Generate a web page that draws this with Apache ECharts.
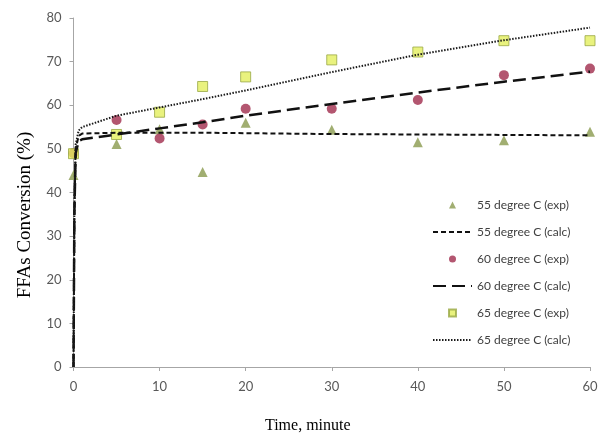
<!DOCTYPE html>
<html><head><meta charset="utf-8">
<script src="https://cdn.jsdelivr.net/npm/echarts@6/dist/echarts.min.js"></script>
<style>html,body{margin:0;padding:0;background:#fff}#c{width:605px;height:439px}</style>
</head><body><div id="c"></div>
<script>
// experimental data (time, conversion %)
const time = [0, 5, 10, 15, 20, 30, 40, 50, 60];
const exp55 = [44.0, 51.1, 54.5, 44.7, 56.0, 54.4, 51.5, 52.0, 53.9];
const exp60 = [49.0, 56.6, 52.4, 55.6, 59.2, 59.2, 61.2, 66.9, 68.4];
const exp65 = [48.9, 53.3, 58.4, 64.3, 66.5, 70.4, 72.2, 74.8, 74.8];
// calculated curves
const calcTime = [0, 0.1, 0.25, 0.6, 1, 5, 10, 15, 20, 30, 40, 50, 60];
const calc55 = [0, 35, 50, 53.0, 53.5, 53.7, 53.7, 53.7, 53.6, 53.4, 53.3, 53.2, 53.1];
const calc60 = [0, 35, 49, 51.8, 52.2, 53.3, 54.7, 56.1, 57.6, 60.3, 62.9, 65.4, 67.7];
const calc65 = [0, 36, 51, 54.2, 55.0, 57.6, 59.5, 61.4, 63.4, 67.6, 71.6, 74.9, 77.8];
const names = ['55 degree C (exp)', '55 degree C (calc)', '60 degree C (exp)', '60 degree C (calc)', '65 degree C (exp)', '65 degree C (calc)'];
const xTitle = 'Time, minute';
const yTitle = 'FFAs Conversion (%)';

const pair = (xs, ys) => xs.map((x, i) => [x, ys[i]]);
const chart = echarts.init(document.getElementById('c'));
const axisGray = '#a6a6a6';
const lbl = {color: '#595959', fontFamily: 'Lato', fontSize: 13};
const legendText = {fontFamily: 'Lato', fontSize: 12, color: '#404040'};
chart.setOption({
  animation: false,
  grid: {left: 73.5, right: 15, top: 18, bottom: 68},
  legend: [{
    orient: 'vertical', left: 448, top: 199, padding: 0,
    itemWidth: 7, itemHeight: 7, itemGap: 42,
    textStyle: Object.assign({padding: [0, 0, 0, 16]}, legendText),
    data: [names[0], names[2], names[4]]
  }, {
    orient: 'vertical', left: 432, top: 226, padding: 0,
    itemWidth: 39, itemHeight: 7, itemGap: 42,
    textStyle: legendText,
    data: [names[1], names[3], names[5]].map(n => ({name: n, itemStyle: {opacity: 0}}))
  }],
  graphic: [{
    type: 'text', x: 25, y: 215, rotation: Math.PI / 2,
    style: {text: yTitle, font: '19px "Liberation Serif"', fill: '#000', align: 'center', verticalAlign: 'middle'}
  }],
  xAxis: {
    type: 'value', min: 0, max: 60, interval: 10,
    name: xTitle, nameLocation: 'middle', nameGap: 51,
    nameTextStyle: {fontFamily: 'Liberation Serif', fontSize: 16, color: '#000', padding: [0, 48, 0, 0]},
    axisLine: {lineStyle: {color: axisGray}},
    axisTick: {show: true, length: 4, lineStyle: {color: axisGray}},
    axisLabel: Object.assign({margin: 13}, lbl),
    splitLine: {show: false}
  },
  yAxis: {
    type: 'value', min: 0, max: 80, interval: 10,
    axisLine: {show: true, lineStyle: {color: axisGray}},
    axisTick: {show: true, length: 4, lineStyle: {color: axisGray}},
    axisLabel: Object.assign({margin: 12}, lbl),
    splitLine: {show: false}
  },
  series: [
    {name: names[0], type: 'scatter', symbol: 'triangle', symbolSize: 10,
     itemStyle: {color: '#8a9a4e'}, data: pair(time, exp55)},
    {name: names[1], type: 'line', showSymbol: false, symbol: 'none',
     lineStyle: {color: '#111', width: 2, type: [5, 3]}, itemStyle: {color: '#111'}, data: pair(calcTime, calc55)},
    {name: names[2], type: 'scatter', symbol: 'circle', symbolSize: 10,
     itemStyle: {color: '#a02c4c'}, data: pair(time, exp60)},
    {name: names[3], type: 'line', showSymbol: false, symbol: 'none',
     lineStyle: {color: '#111', width: 2.5, type: [13, 6]}, itemStyle: {color: '#111'}, data: pair(calcTime, calc60)},
    {name: names[4], type: 'scatter', symbol: 'rect', symbolSize: 10,
     itemStyle: {color: '#e4ef5e', borderColor: '#98a845', borderWidth: 1}, data: pair(time, exp65)},
    {name: names[5], type: 'line', showSymbol: false, symbol: 'none',
     lineStyle: {color: '#1a1a1a', width: 2, type: [1.5, 1.5]}, itemStyle: {color: '#1a1a1a'}, data: pair(calcTime, calc65)}
  ]
});
</script></body></html>
